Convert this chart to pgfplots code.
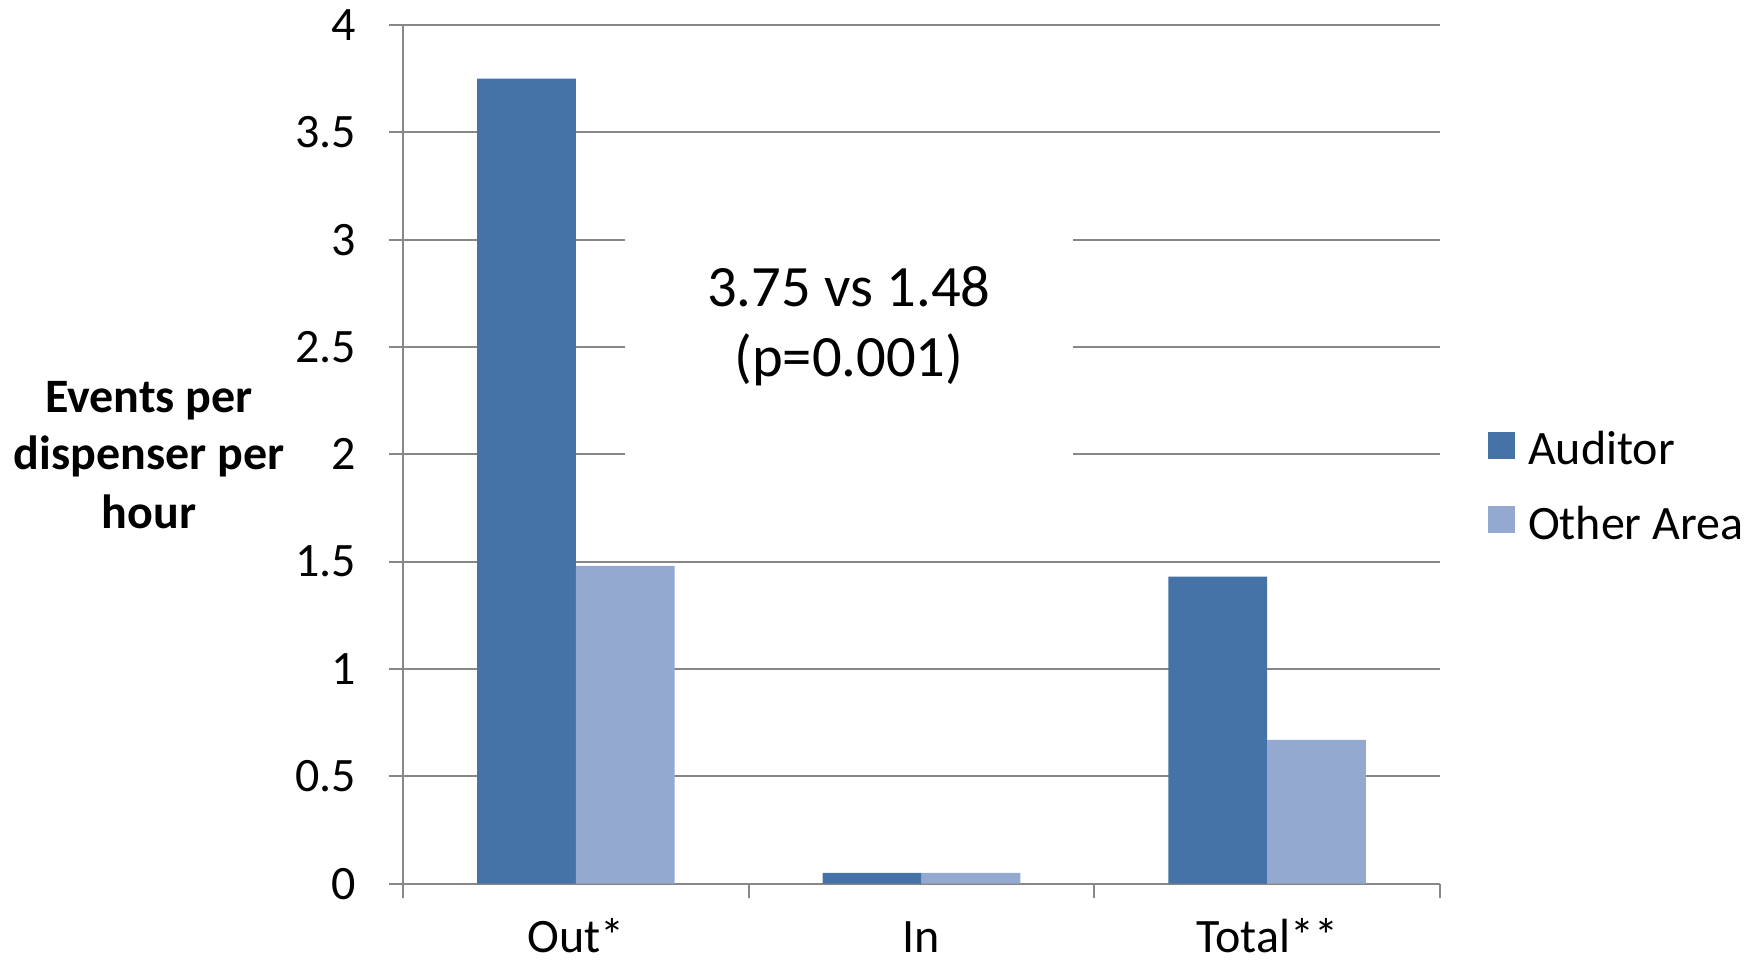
\documentclass[border=0pt]{standalone}
\usepackage{pgfplots}
\pgfplotsset{compat=1.18}
\usepackage{fontspec}
\setmainfont{Carlito}
\definecolor{auditor}{HTML}{4572A7}
\definecolor{otherarea}{HTML}{93A9CF}
\definecolor{gridgray}{HTML}{878787}
\begin{document}
\begin{tikzpicture}
\useasboundingbox (0,0) rectangle (879pt,483pt);
\begin{axis}[
  at={(201.5pt,41.15pt)}, anchor=south west,
  scale only axis, width=518.5pt, height=429.35pt,
  xmin=-0.5, xmax=2.5, ymin=0, ymax=4,
  axis x line*=bottom, axis y line*=left,
  axis line style={gridgray, line width=1pt},
  ybar=0pt, bar width=0.2857,
  ytick={0,0.5,...,4},
  ymajorgrids, grid style={gridgray, line width=1pt},
  tick style={gridgray, line width=1pt},
  tick align=outside, major tick length=7.25pt,
  xtick={-0.5,0.5,1.5,2.5}, xticklabels={,,,},
  extra x ticks={0,1,2},
  extra x tick labels={Out*,In,Total**},
  extra x tick style={major tick length=0pt},
  /pgf/number format/assume math mode=true,
  tick label style={font=\fontsize{24pt}{28pt}\selectfont, text=black},
  yticklabel style={anchor=east, inner sep=0pt, xshift=-16pt},
  xticklabel style={anchor=base, inner sep=0pt, text depth=0pt, yshift=-34.5pt},
  legend style={at={(1.0463,0.4578)}, anchor=west, draw=none, fill=none,
    font=\fontsize{24pt}{28pt}\selectfont, row sep=15.7pt,
    inner sep=0pt, outer sep=0pt,
    nodes={inner sep=0pt, text height=15pt, text depth=5pt}},
  legend cell align=left,
  legend image code/.code={\fill[#1] (0pt,-2pt) rectangle (13.5pt,11.5pt);},
]
\addplot[fill=auditor, draw=none, bar shift=-0.14286]
  coordinates {(0,3.75) (1,0.05) (2,1.43)};
\addplot[fill=otherarea, draw=none, bar shift=0.14286]
  coordinates {(0,1.48) (1,0.05) (2,0.67)};
\legend{\hspace{6.5pt}Auditor,\hspace{6.5pt}Other Area}
% annotation box over the gridlines
\fill[white] (axis cs:0.1436,1.93) rectangle (axis cs:1.439,3.2);
\node[anchor=base, inner sep=0pt, font=\fontsize{29.3pt}{35pt}\selectfont] at (axis cs:0.79,2.687) {3.75 vs 1.48};
\node[anchor=base, inner sep=0pt, font=\fontsize{29.3pt}{35pt}\selectfont] at (axis cs:0.79,2.364) {(p=0.001)};
\end{axis}
% y axis title
\begin{scope}[font=\bfseries\fontsize{24pt}{28pt}\selectfont]
\node[anchor=base, inner sep=0pt] at (74.5pt,276.5pt) {Events per};
\node[anchor=base, inner sep=0pt] at (74.5pt,248pt) {dispenser per};
\node[anchor=base, inner sep=0pt] at (74.5pt,219pt) {hour};
\end{scope}
\end{tikzpicture}
\end{document}
